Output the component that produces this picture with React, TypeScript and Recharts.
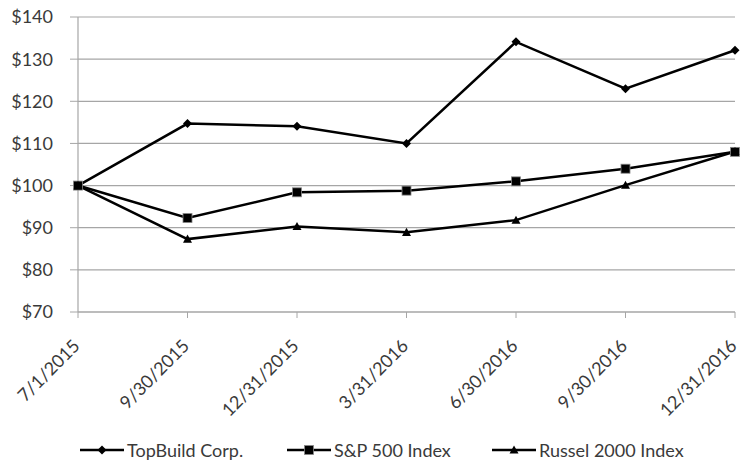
import {LineChart, Line, XAxis, YAxis, CartesianGrid, Legend} from "recharts";

const dates = ["7/1/2015", "9/30/2015", "12/31/2015", "3/31/2016", "6/30/2016", "9/30/2016", "12/31/2016"];
const topBuild = [100, 114.7, 114.1, 110, 134.1, 123, 132.1];
const sp500 = [100, 92.3, 98.4, 98.8, 101, 104, 108];
const russell = [100, 87.3, 90.3, 88.9, 91.8, 100.1, 108.1];
const yTicks = [70, 80, 90, 100, 110, 120, 130, 140];

const data = dates.map((d, i) => ({date: d, topBuild: topBuild[i], sp500: sp500[i], russell: russell[i]}));

const FONT = "Lato, 'Open Sans', sans-serif";
const TEXT = "#3a3a3a";
const GRID = "#a6a6a6";

function Diamond({cx, cy}: any) {
  if (cx == null || cy == null) return null;
  const s = 4.5;
  return <path d={`M${cx},${cy - s}L${cx + s},${cy}L${cx},${cy + s}L${cx - s},${cy}Z`} fill="#000" />;
}

function Square({cx, cy}: any) {
  if (cx == null || cy == null) return null;
  const s = 4.5;
  return <rect x={cx - s} y={cy - s} width={s * 2} height={s * 2} fill="#000" stroke="#888" strokeWidth={0.8} />;
}

function Triangle({cx, cy}: any) {
  if (cx == null || cy == null) return null;
  const s = 4.5;
  return <path d={`M${cx},${cy - s}L${cx + s},${cy + s * 0.8}L${cx - s},${cy + s * 0.8}Z`} fill="#000" />;
}

function DateTick({x, y, payload}: any) {
  return (
    <g transform={`translate(${x + 3},${y + 27})`}>
      <text x={0} y={0} textAnchor="end" transform="rotate(-45)" fill={TEXT} fontSize={18} fontFamily={FONT}>
        {payload.value}
      </text>
    </g>
  );
}

const legendItems = [
  {name: "TopBuild Corp.", Marker: Diamond, left: 80},
  {name: "S&P 500 Index", Marker: Square, left: 287},
  {name: "Russel 2000 Index", Marker: Triangle, left: 492},
];

function LegendContent() {
  return (
    <div style={{position: "relative", height: 30, width: 741, fontFamily: FONT, fontSize: 18, color: TEXT}}>
      {legendItems.map(({name, Marker, left}) => (
        <div key={name} style={{position: "absolute", left, top: 3, display: "flex", alignItems: "center", whiteSpace: "nowrap"}}>
          <svg width={44} height={14}>
            <line x1={0} y1={7} x2={44} y2={7} stroke="#000" strokeWidth={2.5} />
            <Marker cx={22} cy={7} />
          </svg>
          <span style={{marginLeft: 3}}>{name}</span>
        </div>
      ))}
    </div>
  );
}

export default function App() {
  return (
    <div style={{position: "absolute", left: 0, top: 0, background: "#fff"}}>
      <LineChart width={741} height={466} data={data} margin={{top: 17, right: 6, left: 0, bottom: 0}}>
        <CartesianGrid vertical={false} stroke={GRID} strokeWidth={1.2} />
        <XAxis
          dataKey="date"
          interval={0}
          height={124}
          tick={<DateTick />}
          tickSize={6}
          tickLine={{stroke: GRID}}
          axisLine={{stroke: GRID, strokeWidth: 1.2}}
        />
        <YAxis
          domain={[70, 140]}
          ticks={yTicks}
          width={78}
          tickSize={8}
          tickMargin={17}
          tickLine={{stroke: GRID}}
          axisLine={{stroke: GRID, strokeWidth: 1.2}}
          tickFormatter={(v) => `$${v}`}
          tick={{fill: TEXT, fontSize: 18, fontFamily: FONT}}
        />
        <Legend verticalAlign="bottom" content={<LegendContent />} />
        <Line dataKey="topBuild" name="TopBuild Corp." stroke="#000" strokeWidth={2.5} dot={<Diamond />} isAnimationActive={false} />
        <Line dataKey="sp500" name="S&P 500 Index" stroke="#000" strokeWidth={2.5} dot={<Square />} isAnimationActive={false} />
        <Line dataKey="russell" name="Russel 2000 Index" stroke="#000" strokeWidth={2.5} dot={<Triangle />} isAnimationActive={false} />
      </LineChart>
    </div>
  );
}
